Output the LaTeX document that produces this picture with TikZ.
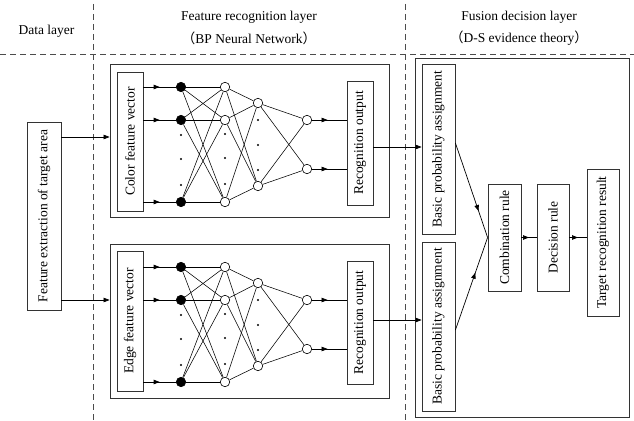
\documentclass[tikz,border=0pt]{standalone}
\usepackage{fontspec}
\setmainfont{Liberation Serif}
\newfontfamily\cjk{Noto Sans CJK SC}
\usetikzlibrary{arrows.meta,decorations.markings}

\tikzset{
    txt/.style={font=\fontsize{13.5}{16}\selectfont, inner sep=0pt},
    box/.style={txt, draw=black!80, line width=0.8pt, rotate=90},
    panel/.style={draw=black!80, line width=0.8pt, inner sep=0pt},
    layerline/.style={black!70, line width=0.8pt, dash pattern=on 6pt off 4pt},
    neuron/.style={draw, circle, fill=white, minimum size=9.5pt, inner sep=0pt, line width=0.6pt},
    inneuron/.style={neuron, fill=black},
    link/.style={line width=0.55pt},
    tip/.style={-{Triangle[length=6pt,width=4.5pt]}, line width=0.7pt},
    midarrow/.style={line width=0.7pt, postaction={decorate},
        decoration={markings, mark=at position #1 with {\arrow{Triangle[length=6pt,width=4.5pt]}}}},
    midarrow/.default=0.5,
}

\begin{document}
\begin{tikzpicture}[x=1pt, y=-1pt]
    \useasboundingbox (0,0) rectangle (634,420);

    % layer separators and titles
    \draw[layerline] (93,4) -- (93,420);
    \draw[layerline] (405.5,4) -- (405.5,420);
    \draw[layerline] (0,54) -- (634,54);
    \node[txt] (datalayer) at (46.5,31) {Data layer};
    \node[txt] (featlayer) at (249,17) {Feature recognition layer};
    \node[txt] (bpnet) at (249,38) {{\cjk （}BP Neural Network{\cjk ）}};
    \node[txt] (fuselayer) at (519,17) {Fusion decision layer};
    \node[txt] (dstheory) at (519,38) {{\cjk （}D-S evidence theory{\cjk ）}};

    % data layer
    \node[box, minimum width=188pt, minimum height=34pt] (ext) at (44,216) {Feature extraction of target area};
    \coordinate (ext1) at (0,137);
    \coordinate (ext2) at (0,300);

    % panels
    \node[panel, minimum width=279pt, minimum height=153pt] (net1) at (249.5,140.5) {};
    \node[panel, minimum width=279pt, minimum height=154pt] (net2) at (249.5,321) {};
    \node[panel, minimum width=214pt, minimum height=359pt] (fusion) at (522,237.5) {};

    \draw[tip] (ext.south |- ext1) -- (net1.west |- ext1);
    \draw[tip] (ext.south |- ext2) -- (net2.west |- ext2);

    % color network
    \node[box, minimum width=139pt, minimum height=26pt] (colbox) at (130,141.5) {Color feature vector};
    \node[inneuron] (ca1) at (181,87) {};
    \node[inneuron] (ca2) at (181,120) {};
    \node[inneuron] (ca3) at (181,202) {};
    \node[neuron] (cb1) at (225,87) {};
    \node[neuron] (cb2) at (225,120) {};
    \node[neuron] (cb3) at (225,202) {};
    \node[neuron] (cc1) at (258,103) {};
    \node[neuron] (cc2) at (258,186) {};
    \node[neuron] (cd1) at (307,120) {};
    \node[neuron] (cd2) at (307,169) {};
    \foreach \y in {135,159,185} {
        \fill (181,\y) circle (1.1pt);
        \fill (225,\y-1) circle (1.1pt);
    }
    \foreach \y in {120,145,170}
        \fill (258,\y) circle (1.1pt);
    \foreach \i in {1,2,3} {
        \draw[midarrow] (colbox.south |- ca\i) -- (ca\i);
        \foreach \j in {1,2,3}
            \draw[link] (ca\i) -- (cb\j);
        \foreach \j in {1,2}
            \draw[link] (cb\i) -- (cc\j);
    }
    \foreach \i in {1,2}
        \foreach \j in {1,2}
            \draw[link] (cc\i) -- (cd\j);
    \node[box, minimum width=124pt, minimum height=26pt] (rec1) at (360,143) {Recognition output};
    \draw[midarrow=0.45] (cd1) -- (rec1.north |- cd1);
    \draw[midarrow=0.45] (cd2) -- (rec1.north |- cd2);

    % edge network
    \node[box, minimum width=140pt, minimum height=26pt] (edgebox) at (130,321) {Edge feature vector};
    \node[inneuron] (ea1) at (181,267) {};
    \node[inneuron] (ea2) at (181,300) {};
    \node[inneuron] (ea3) at (181,382) {};
    \node[neuron] (eb1) at (225,267) {};
    \node[neuron] (eb2) at (225,300) {};
    \node[neuron] (eb3) at (225,382) {};
    \node[neuron] (ec1) at (258,283) {};
    \node[neuron] (ec2) at (258,366) {};
    \node[neuron] (ed1) at (307,300) {};
    \node[neuron] (ed2) at (307,349) {};
    \foreach \y in {315,339,365} {
        \fill (181,\y) circle (1.1pt);
        \fill (225,\y-1) circle (1.1pt);
    }
    \foreach \y in {300,325,350}
        \fill (258,\y) circle (1.1pt);
    \foreach \i in {1,2,3} {
        \draw[midarrow] (edgebox.south |- ea\i) -- (ea\i);
        \foreach \j in {1,2,3}
            \draw[link] (ea\i) -- (eb\j);
        \foreach \j in {1,2}
            \draw[link] (eb\i) -- (ec\j);
    }
    \foreach \i in {1,2}
        \foreach \j in {1,2}
            \draw[link] (ec\i) -- (ed\j);
    \node[box, minimum width=123pt, minimum height=26pt] (rec2) at (360,322.5) {Recognition output};
    \draw[midarrow=0.45] (ed1) -- (rec2.north |- ed1);
    \draw[midarrow=0.45] (ed2) -- (rec2.north |- ed2);

    % fusion decision
    \node[box, minimum width=170pt, minimum height=33pt] (bpa1) at (438.5,149) {Basic probability assignment};
    \node[box, minimum width=169pt, minimum height=33pt] (bpa2) at (438.5,326.5) {Basic probability assignment};
    \node[box, minimum width=107pt, minimum height=33pt] (comb) at (504.5,237.5) {Combination rule};
    \node[box, minimum width=107pt, minimum height=32pt] (dec) at (553,237.5) {Decision rule};
    \node[box, minimum width=147pt, minimum height=32pt] (target) at (603,242.5) {Target recognition result};
    \coordinate (out1) at (0,147);
    \coordinate (out2) at (0,320);

    \draw[tip] (rec1.south |- out1) -- (bpa1.north |- out1);
    \draw[tip] (rec2.south |- out2) -- (bpa2.north |- out2);
    \draw[midarrow=0.72] ([yshift=6pt]bpa1.south) -- (comb.north);
    \draw[midarrow=0.62] ([yshift=-3.5pt]bpa2.south) -- (comb.north);
    \draw[midarrow] (comb.south) -- (dec.north);
    \draw[midarrow] (dec.south) -- (target.north |- dec.south);
\end{tikzpicture}
\end{document}
